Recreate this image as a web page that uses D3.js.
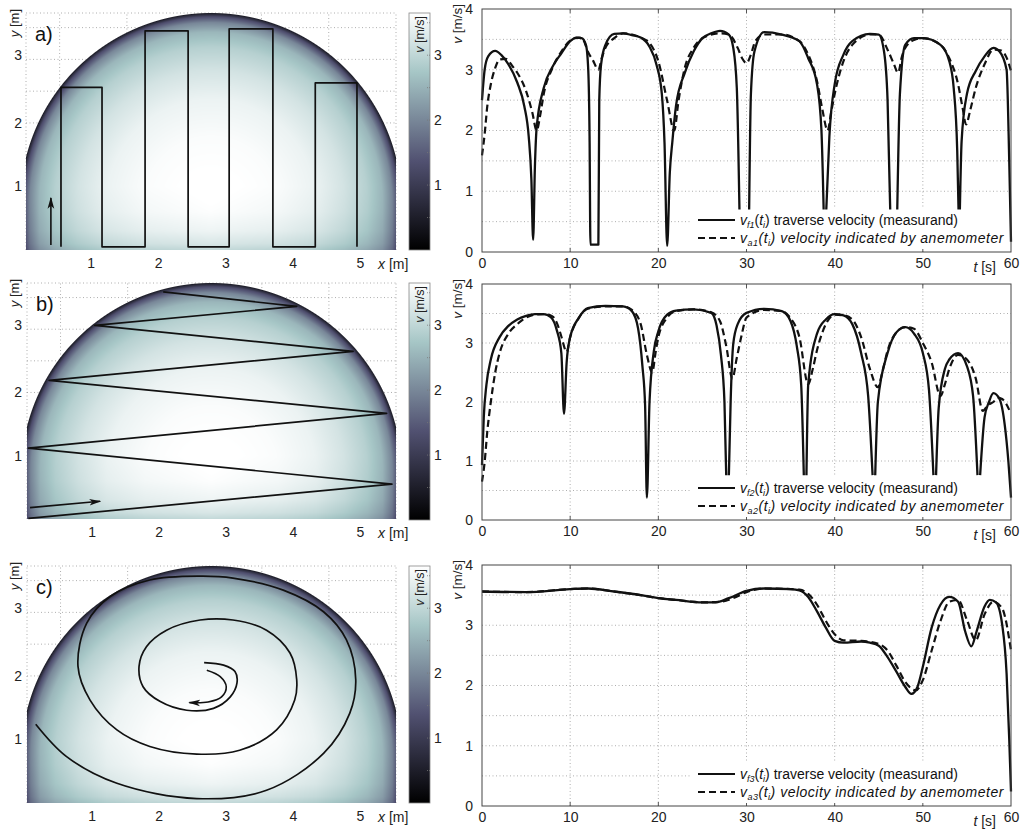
<!DOCTYPE html>
<html>
<head>
<meta charset="utf-8">
<script src="https://cdn.jsdelivr.net/npm/d3@7"></script>
<style>
  body { margin: 0; background: #fff; }
  svg { font-family: "Liberation Sans", Arial, sans-serif; }
</style>
</head>
<body>
<svg id="fig" width="1032" height="833"></svg>
<script>
// ---- data ----
var panelLabels = ['a)', 'b)', 'c)'];
var xTicksM = [1, 2, 3, 4, 5];
var yTicksM = [1, 2, 3];
var gridXM = [0, 0.5, 1.5, 2.5, 3.5, 4.5, 5.5];
var gridYM = [0.5, 1, 1.5, 2, 2.5, 3, 3.5, 3.73];
var cbTicks = [1, 2, 3];
var cbMinor = [0.5, 1.5, 2.5, 3.5];
var tTicks = [0, 10, 20, 30, 40, 50, 60];
var vTicks = [0, 1, 2, 3, 4];
var vGrid = [0.5, 1, 1.5, 2, 2.5, 3, 3.5];
var tGrid = [10, 20, 30, 40, 50];

// traverse paths [x m, y m]
var pathA = [[0.52,0.05],[0.52,2.56],[1.13,2.56],[1.13,0.05],[1.77,0.05],[1.77,3.45],[2.41,3.45],[2.41,0.05],
  [3.02,0.05],[3.02,3.48],[3.67,3.48],[3.67,0.05],[4.3,0.05],[4.3,2.63],[4.92,2.63],[4.92,0.05]];
var arrowA = [[0.37,0.08],[0.37,0.82]];
var pathB = [[0.02,0.01],[5.44,0.55],[0.02,1.12],[5.36,1.67],[0.33,2.19],[4.86,2.65],[1.01,3.06],[4.02,3.36],[2.03,3.59]];
var arrowB = [[0.045,0.18],[1.09,0.28]];
var pathC = [[0.13,1.24],[0.59,0.73],[1.34,0.31],[2.53,0.07],[3.57,0.2],[4.42,0.78],[4.81,1.41],[4.9,1.94],
  [4.76,2.57],[4.42,3.01],[3.82,3.35],[3.07,3.54],[2.58,3.57],[1.83,3.51],[1.24,3.25],[0.89,2.83],[0.76,2.15],
  [0.94,1.62],[1.34,1.15],[1.83,0.89],[2.53,0.77],[3.17,0.83],[3.72,1.15],[3.99,1.62],[4.02,1.94],[3.92,2.36],
  [3.57,2.72],[3.07,2.88],[2.58,2.88],[2.08,2.72],[1.78,2.46],[1.67,2.15],[1.73,1.83],[1.98,1.6],[2.38,1.46],
  [2.78,1.49],[3.03,1.67],[3.13,1.89],[3.1,2.07],[2.93,2.17],[2.64,2.21]];
var arrowC = [[2.68,2.09],[2.88,1.99],[2.97,1.83],[2.9,1.67],[2.7,1.59],[2.42,1.58]];

// tunnel cross-section: vertical side walls, vault, floor
var tunnelWidth = 5.5, tunnelHeight = 3.73;
var vaultCenterY = 0.73, vaultRadiusX = 2.835, vaultRadiusY = 3.0;
// speed vs. relative depth from the wall, and damping near the floor
var wallDepth = [0, 0.02, 0.05, 0.1, 0.18, 0.3, 0.45, 0.65, 1];
var wallSpeed = [0.4, 1.3, 2.0, 2.55, 2.9, 3.2, 3.45, 3.6, 3.7];
var floorHeight = [0, 0.1, 0.3, 0.6, 1.0];
var floorFactor = [0.82, 0.88, 0.94, 0.98, 1];
var boneStops = [0, 0.375, 0.75, 1];
var boneColors = ['#000000', '#515171', '#a6c6c6', '#ffffff'];
var vMax = 3.65;

// time series [t s, v m/s], null = gap
var vf1 = [[0,2.5],[0.3,3.0],[0.7,3.22],[1.5,3.31],[2.2,3.24],[3,3.09],[4,2.79],[4.8,2.4],[5.3,1.9],[5.6,1.2],[5.8,0.2],
  [6.0,1.4],[6.2,2.05],[7,2.7],[8,3.05],[9,3.27],[10,3.47],[10.7,3.53],[11.3,3.52],[11.8,3.4],[12.05,3.0],[12.2,1.9],
  [12.3,0.12],[13.2,0.12],[13.3,2.5],[13.5,3.08],[14,3.41],[15,3.59],[16,3.6],[17,3.57],[18,3.53],[19,3.38],[19.8,3.08],
  [20.4,2.6],[20.7,1.8],[21,0.1],[21.3,1.3],[21.6,1.83],[22,2.4],[23,2.95],[24,3.3],[25,3.52],[26,3.6],[27,3.64],
  [28,3.58],[28.5,3.36],[28.9,2.7],[29.2,0.7],null,[30.3,0.7],[30.5,2.6],[30.9,3.3],[32,3.62],[34,3.58],[36,3.47],
  [37,3.19],[38,2.76],[38.5,2.0],[38.75,0.7],null,[39.05,0.7],[39.4,1.9],[40,2.76],[41,3.25],[42,3.47],[44,3.59],
  [45,3.58],[45.6,3.3],[46,2.5],[46.3,0.7],null,[47.1,0.7],[47.4,2.6],[48,3.41],[49,3.52],[50,3.52],[52,3.41],
  [53,3.14],[53.5,2.7],[53.9,1.67],[54.05,0.7],null,[54.2,0.7],[54.4,1.83],[55,2.6],[56,2.98],[57,3.22],[58,3.36],
  [58.7,3.3],[59.5,3.0],[59.8,1.5],[60,0.17]];
var va1 = [[0,1.59],[0.3,1.94],[0.6,2.4],[1,2.76],[1.5,3.03],[2,3.17],[2.7,3.18],[3.5,3.05],[4,2.95],[5,2.65],[5.7,2.3],
  [6.2,2.0],[6.6,2.25],[7,2.6],[8,3.03],[9,3.3],[10,3.48],[11,3.53],[11.5,3.49],[12,3.3],[12.6,3.15],[13.2,3.0],
  [13.6,3.2],[14,3.36],[15,3.52],[16,3.6],[18,3.53],[19,3.44],[20,3.14],[21,2.49],[21.8,2.0],[22.3,2.5],[23,3.03],
  [24,3.36],[25,3.52],[27,3.6],[28,3.58],[29,3.36],[29.5,3.19],[30,3.11],[30.5,3.25],[31,3.47],[32,3.58],[34,3.58],
  [36,3.47],[37,3.25],[38,2.81],[38.6,2.35],[39.2,2.0],[39.6,2.3],[40,2.6],[41,3.14],[42,3.41],[44,3.58],[45,3.58],
  [46,3.33],[46.7,3.1],[47.2,2.95],[47.6,3.2],[48,3.36],[49,3.49],[50,3.52],[52,3.41],[53,3.19],[54,2.76],[54.5,2.38],
  [54.9,2.1],[55.4,2.35],[56,2.7],[57,3.09],[58,3.33],[58.8,3.32],[59.5,3.2],[60,2.98]];
var vf2 = [[0,0.93],[0.2,1.74],[0.5,2.29],[1,2.72],[2,3.1],[3,3.29],[4,3.4],[5,3.46],[6,3.49],[7,3.49],[7.8,3.44],
  [8.5,3.21],[9,2.83],[9.3,1.8],[9.6,2.67],[10,3.1],[11,3.43],[12,3.59],[14,3.63],[16,3.62],[17,3.54],[17.7,3.25],
  [18.2,2.6],[18.5,1.94],[18.7,0.38],[19,2.0],[19.5,2.87],[20,3.2],[21,3.48],[22,3.55],[24,3.57],[26,3.51],[26.6,3.3],
  [27.1,2.8],[27.5,2.0],[27.7,0.76],null,[28.0,0.76],[28.2,2.0],[28.5,2.99],[29,3.32],[30,3.51],[32,3.58],[34,3.54],
  [35,3.37],[35.7,2.95],[36.2,2.3],[36.5,0.76],null,[36.8,0.76],[37,2.3],[38,3.16],[39,3.4],[40,3.49],[41,3.47],
  [42,3.32],[43,2.83],[43.8,2.1],[44.3,0.76],null,[44.6,0.76],[44.9,2.0],[46,2.83],[47,3.18],[48,3.27],[49,3.16],
  [50,2.83],[50.7,2.2],[51.2,0.76],null,[51.5,0.76],[51.8,1.9],[52.5,2.56],[53,2.72],[54,2.83],[55,2.61],[55.7,2.1],
  [56.2,0.76],null,[56.5,0.76],[57,1.74],[57.5,2.0],[58,2.15],[58.7,2.05],[59.3,1.6],[59.7,1.0],[60,0.38]];
var va2 = [[0,0.65],[0.3,0.98],[0.6,1.5],[1,2.0],[1.5,2.5],[2,2.83],[3,3.16],[4,3.32],[5,3.43],[6,3.48],[7,3.49],
  [8,3.45],[8.6,3.3],[9,3.11],[9.6,2.85],[10,3.1],[11,3.43],[12,3.58],[14,3.62],[16,3.62],[17,3.56],[18,3.32],
  [18.7,2.8],[19.3,2.5],[19.7,2.85],[20,3.1],[21,3.43],[22,3.54],[24,3.57],[26,3.52],[27,3.37],[27.7,2.95],[28.4,2.4],
  [28.9,2.75],[29.4,3.1],[30,3.43],[32,3.56],[34,3.54],[35,3.42],[36,3.1],[37,2.3],[37.5,2.55],[38,2.88],[39,3.32],
  [40,3.48],[41,3.47],[42,3.4],[43,3.1],[44,2.56],[44.9,2.25],[45.4,2.5],[46,2.87],[47,3.18],[48,3.27],[49,3.24],
  [50,3.0],[51,2.67],[52,2.1],[52.5,2.3],[53,2.56],[54,2.8],[55,2.72],[56,2.4],[56.8,1.85],[57.4,1.95],[58,2.0],
  [58.5,2.07],[59,2.05],[60,1.8]];
var vf3 = [[0,3.56],[5,3.55],[10,3.6],[12,3.61],[15,3.56],[18,3.5],[20,3.45],[22,3.42],[25,3.38],[26.5,3.38],[28,3.45],
  [30,3.57],[32,3.61],[35,3.6],[36,3.58],[37,3.47],[38,3.23],[39,2.96],[40,2.74],[41,2.71],[43,2.73],[44,2.71],
  [45,2.66],[46,2.47],[47,2.23],[48,1.98],[48.7,1.86],[49.4,1.98],[50,2.31],[51,2.96],[52,3.34],[53,3.47],[54,3.39],
  [54.8,2.9],[55.5,2.65],[56.1,2.9],[57,3.31],[57.6,3.42],[58.3,3.38],[59,3.01],[59.5,2.2],[59.8,1.11],[60,0.24]];
var va3 = [[0,3.56],[5,3.55],[10,3.6],[12,3.61],[15,3.56],[18,3.5],[20,3.45],[22,3.42],[25,3.38],[27,3.39],[28.5,3.45],
  [30,3.55],[32,3.61],[35,3.6],[36,3.59],[37,3.52],[38,3.34],[39,3.07],[40,2.85],[41,2.75],[43,2.74],[45,2.69],
  [46,2.58],[47,2.33],[48,2.06],[49.2,1.92],[50,2.09],[51,2.58],[52,3.07],[53,3.39],[54,3.42],[55,3.09],[56,2.75],
  [57,3.18],[58,3.39],[59,3.28],[60,2.58]];

var seriesF = [vf1, vf2, vf3];
var seriesA = [va1, va2, va3];
var paths = [pathA, pathB, pathC];
var arrows = [arrowA, arrowB, arrowC];
var subF = ['f1', 'f2', 'f3'];
var subA = ['a1', 'a2', 'a3'];

// layout of the three rows
var rows = [
  { left: [26, 396, 13, 250], cb: [409, 430, 13, 250], right: [482, 1011, 9, 252] },
  { left: [27, 396, 283, 519], cb: [409, 430, 283, 520], right: [482, 1011, 284, 520] },
  { left: [27, 396, 566, 803], cb: [409, 430, 566, 803], right: [482, 1011, 565, 806] }
];

var svg = d3.select('#fig');
var defs = svg.append('defs');
defs.append('marker')
  .attr('id', 'arrowHead')
  .attr('viewBox', '0 0 10 10')
  .attr('refX', 9).attr('refY', 5)
  .attr('markerWidth', 12).attr('markerHeight', 12)
  .attr('markerUnits', 'userSpaceOnUse')
  .attr('orient', 'auto')
  .append('path')
  .attr('d', 'M0,2.2 L10,5 L0,7.8 L2.5,5 Z')
  .attr('fill', '#111');

var grad = defs.append('linearGradient')
  .attr('id', 'boneGrad')
  .attr('x1', 0).attr('y1', 1).attr('x2', 0).attr('y2', 0);
boneStops.forEach(function(s, i) {
  grad.append('stop').attr('offset', s).attr('stop-color', boneColors[i]);
});

var color = d3.scaleLinear().domain(boneStops.map(function(s) { return s * vMax; })).range(boneColors).clamp(true);
var speedByDepth = d3.scaleLinear().domain(wallDepth).range(wallSpeed).clamp(true);
var floorScale = d3.scaleLinear().domain(floorHeight).range(floorFactor).clamp(true);

function fieldImage(xs, ys) {
  var x0 = xs.range()[0], y0 = ys.range()[1];
  var w = Math.round(xs.range()[1] - x0), h = Math.round(ys.range()[0] - y0);
  var cv = document.createElement('canvas');
  cv.width = w; cv.height = h;
  var ctx = cv.getContext('2d');
  var img = ctx.createImageData(w, h);
  var cx = tunnelWidth / 2;
  var rpx = xs(vaultRadiusX) - xs(0);
  for (var j = 0; j < h; j++) {
    for (var i = 0; i < w; i++) {
      var x = xs.invert(x0 + i + 0.5), y = ys.invert(y0 + j + 0.5);
      var dx = (x - cx) / vaultRadiusX;
      var dy = Math.max(0, y - vaultCenterY) / vaultRadiusY;
      var r = Math.sqrt(dx * dx + dy * dy);
      var a = Math.max(0, Math.min(1, (1 - r) * rpx + 0.5));
      if (a <= 0) continue;
      var v = speedByDepth(1 - r) * floorScale(y);
      var c = d3.rgb(color(v));
      var k = (j * w + i) * 4;
      img.data[k] = c.r; img.data[k + 1] = c.g; img.data[k + 2] = c.b; img.data[k + 3] = Math.round(a * 255);
    }
  }
  ctx.putImageData(img, 0, 0);
  return { href: cv.toDataURL(), x: x0, y: y0, w: w, h: h };
}

var gridStyle = function(sel) {
  sel.attr('stroke', '#9a9a9a').attr('stroke-width', 0.8).attr('stroke-dasharray', '1,2.5').attr('fill', 'none');
};

rows.forEach(function(row, ri) {
  var L = row.left;
  var xs = d3.scaleLinear().domain([0, tunnelWidth]).range([L[0], L[1]]);
  var ys = d3.scaleLinear().domain([0, tunnelHeight]).range([L[3], L[2]]);
  var g = svg.append('g').attr('class', 'map');

  // grid behind the field
  g.selectAll('.gx').data(gridXM).enter().append('line')
    .attr('x1', function(d) { return xs(d); }).attr('x2', function(d) { return xs(d); })
    .attr('y1', ys(0)).attr('y2', ys(tunnelHeight)).call(gridStyle);
  g.selectAll('.gy').data(gridYM).enter().append('line')
    .attr('x1', xs(0)).attr('x2', xs(tunnelWidth))
    .attr('y1', function(d) { return ys(d); }).attr('y2', function(d) { return ys(d); }).call(gridStyle);

  var im = fieldImage(xs, ys);
  g.append('image').attr('href', im.href).attr('x', im.x).attr('y', im.y)
    .attr('width', im.w).attr('height', im.h);

  // traverse path
  var line = d3.line().x(function(d) { return xs(d[0]); }).y(function(d) { return ys(d[1]); });
  if (ri === 2) line.curve(d3.curveCatmullRom.alpha(0.5));
  g.append('path').attr('d', line(paths[ri])).attr('fill', 'none')
    .attr('stroke', '#111').attr('stroke-width', 1.7).attr('stroke-linejoin', 'round');
  g.append('path').attr('d', line(arrows[ri])).attr('fill', 'none')
    .attr('stroke', '#111').attr('stroke-width', 1.6).attr('marker-end', 'url(#arrowHead)');

  // tick labels
  g.selectAll('.xl').data(xTicksM).enter().append('text')
    .attr('x', function(d) { return xs(d) - 2; }).attr('y', L[3] + 18)
    .attr('text-anchor', 'middle').attr('font-size', 14).attr('fill', '#222').text(function(d) { return d; });
  var xl = g.append('text').attr('x', 378).attr('y', L[3] + 19).attr('font-size', 14).attr('fill', '#222');
  xl.append('tspan').attr('font-style', 'italic').text('x');
  xl.append('tspan').text(' [m]');
  g.selectAll('.yl').data(yTicksM).enter().append('text')
    .attr('x', 22).attr('y', function(d) { return ys(d) + 5 - (d === 3 ? 4 : 0); })
    .attr('text-anchor', 'end').attr('font-size', 14).attr('fill', '#222').text(function(d) { return d; });
  var yl = g.append('text').attr('transform', 'translate(19,' + (L[2] - 4) + ') rotate(-90)')
    .attr('text-anchor', 'end').attr('font-size', 13).attr('fill', '#222');
  yl.append('tspan').attr('font-style', 'italic').text('y');
  yl.append('tspan').text(' [m]');
  g.append('text').attr('x', L[0] + 9).attr('y', L[2] + 28).attr('font-size', 20).attr('fill', '#111')
    .text(panelLabels[ri]);

  // colorbar
  var C = row.cb;
  var cs = d3.scaleLinear().domain([0, vMax]).range([C[3], C[2]]);
  var cg = svg.append('g').attr('class', 'colorbar');
  cg.append('rect').attr('x', C[0]).attr('y', C[2]).attr('width', C[1] - C[0]).attr('height', C[3] - C[2])
    .attr('fill', 'url(#boneGrad)').attr('stroke', '#888').attr('stroke-width', 0.8);
  cg.selectAll('.cm').data(cbMinor.concat(cbTicks)).enter().append('line')
    .attr('x1', C[1] - 3).attr('x2', C[1] + 1)
    .attr('y1', function(d) { return cs(d); }).attr('y2', function(d) { return cs(d); })
    .attr('stroke', '#777').attr('stroke-width', 0.8).attr('stroke-dasharray', '1,1');
  cg.selectAll('.ct').data(cbTicks).enter().append('text')
    .attr('x', C[1] + 4).attr('y', function(d) { return cs(d) + 5; })
    .attr('font-size', 14).attr('fill', '#222').text(function(d) { return d; });
  var cl = cg.append('text').attr('transform', 'translate(' + (C[0] + 15) + ',' + (C[2] + 3) + ') rotate(-90)')
    .attr('text-anchor', 'end').attr('font-size', 12.5).attr('fill', '#222');
  cl.append('tspan').attr('font-style', 'italic').text('v');
  cl.append('tspan').text(' [m/s]');

  // time series
  var R = row.right;
  var ts = d3.scaleLinear().domain([0, 60]).range([R[0], R[1]]);
  var vs = d3.scaleLinear().domain([0, 4]).range([R[3], R[2]]);
  var rg = svg.append('g').attr('class', 'series');
  rg.selectAll('.tg').data(tGrid).enter().append('line')
    .attr('x1', function(d) { return ts(d); }).attr('x2', function(d) { return ts(d); })
    .attr('y1', vs(0)).attr('y2', vs(4)).call(gridStyle);
  rg.selectAll('.vg').data(vGrid).enter().append('line')
    .attr('x1', ts(0)).attr('x2', ts(60))
    .attr('y1', function(d) { return vs(d); }).attr('y2', function(d) { return vs(d); }).call(gridStyle);

  var xAxis = d3.axisBottom(ts).tickValues(tTicks).tickSize(0).tickPadding(6).tickFormat(d3.format('d'));
  var ax = rg.append('g').attr('transform', 'translate(0,' + R[3] + ')').call(xAxis);
  ax.select('.domain').remove();
  ax.selectAll('text').attr('font-size', 14).attr('fill', '#222').attr('font-family', '"Liberation Sans", Arial, sans-serif');
  var yAxis = d3.axisLeft(vs).tickValues(vTicks).tickSize(0).tickPadding(6).tickFormat(d3.format('d'));
  var ay = rg.append('g').attr('transform', 'translate(' + (R[0] - 3) + ',0)').call(yAxis);
  ay.select('.domain').remove();
  ay.selectAll('text').attr('font-size', 14).attr('fill', '#222').attr('font-family', '"Liberation Sans", Arial, sans-serif');

  // small inner ticks on top and bottom
  rg.selectAll('.tk').data(tGrid).enter().append('path')
    .attr('d', function(d) { return 'M' + ts(d) + ',' + vs(4) + 'v4M' + ts(d) + ',' + vs(0) + 'v-4'; })
    .attr('stroke', '#555').attr('stroke-width', 1);

  // legend background
  rg.append('rect').attr('x', 690).attr('y', R[3] - 45).attr('width', R[1] - 692).attr('height', 42)
    .attr('fill', '#fff');

  var tl = d3.line().defined(function(d) { return d !== null; })
    .x(function(d) { return ts(d[0]); }).y(function(d) { return vs(d[1]); })
    .curve(d3.curveMonotoneX);
  rg.append('path').attr('d', tl(seriesA[ri])).attr('fill', 'none')
    .attr('stroke', '#111').attr('stroke-width', 2.2).attr('stroke-dasharray', '7,4');
  rg.append('path').attr('d', tl(seriesF[ri])).attr('fill', 'none')
    .attr('stroke', '#111').attr('stroke-width', 2.3).attr('stroke-linejoin', 'round');

  rg.append('rect').attr('x', R[0]).attr('y', R[2]).attr('width', R[1] - R[0]).attr('height', R[3] - R[2])
    .attr('fill', 'none').attr('stroke', '#444').attr('stroke-width', 1);

  // axis names
  var tlab = rg.append('text').attr('x', R[1] - 15).attr('y', R[3] + 20).attr('text-anchor', 'end')
    .attr('font-size', 14).attr('fill', '#222');
  tlab.append('tspan').attr('font-style', 'italic').text('t');
  tlab.append('tspan').text(' [s]');
  var vlab = rg.append('text').attr('transform', 'translate(' + (R[0] - 20) + ',' + (R[2] - 5) + ') rotate(-90)')
    .attr('text-anchor', 'end').attr('font-size', 13.5).attr('fill', '#222');
  vlab.append('tspan').attr('font-style', 'italic').text('v');
  vlab.append('tspan').text(' [m/s]');

  // legend
  var ly1 = R[3] - 32, ly2 = R[3] - 14;
  rg.append('line').attr('x1', 698).attr('x2', 735).attr('y1', ly1).attr('y2', ly1)
    .attr('stroke', '#111').attr('stroke-width', 2);
  rg.append('line').attr('x1', 698).attr('x2', 735).attr('y1', ly2).attr('y2', ly2)
    .attr('stroke', '#111').attr('stroke-width', 2).attr('stroke-dasharray', '7,4');
  function legendText(y, sub, rest, italicAll) {
    var t = rg.append('text').attr('x', 740).attr('y', y + 5).attr('font-size', 14).attr('fill', '#111')
      .attr('letter-spacing', italicAll ? 0.5 : 0);
    t.append('tspan').attr('font-style', 'italic').text('v');
    t.append('tspan').attr('font-style', 'italic').attr('font-size', 9).attr('dy', 3).text(sub);
    t.append('tspan').attr('dy', -3).attr('font-style', italicAll ? 'italic' : 'normal').text('(');
    t.append('tspan').attr('font-style', 'italic').text('t');
    t.append('tspan').attr('font-style', 'italic').attr('font-size', 9).attr('dy', 3).text('i');
    t.append('tspan').attr('dy', -3).attr('font-style', italicAll ? 'italic' : 'normal').text(')' + rest);
  }
  legendText(ly1, subF[ri], ' traverse velocity (measurand)', false);
  legendText(ly2, subA[ri], ' velocity indicated by anemometer', true);
});
</script>
</body>
</html>
